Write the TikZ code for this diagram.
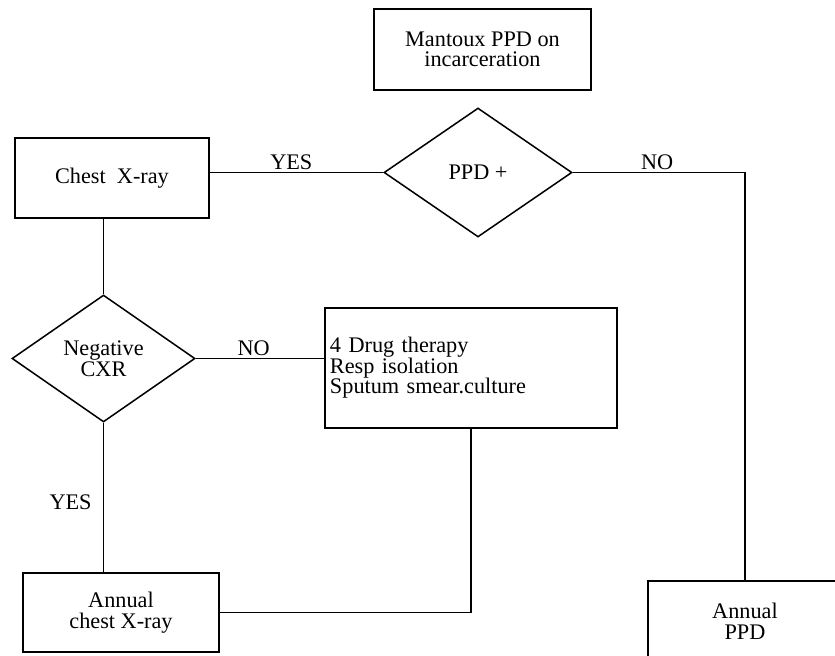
\documentclass[tikz,border=0pt]{standalone}
\usepackage{fontspec}
\setmainfont{Liberation Serif}
\usepackage{tikz}
\usetikzlibrary{positioning}
\usetikzlibrary{shapes.geometric}

\begin{document}
\begin{tikzpicture}[x=0.03cm, y=-0.03cm, line width=1.3pt,
  every node/.style={font=\fontsize{19}{17.6}\selectfont},
  process/.style={draw, inner sep=0pt, align=center},
  decision/.style={draw, diamond, inner sep=0pt, align=center},
  lbl/.style={inner sep=2pt}]
\path[use as bounding box, fill=white] (0,0) rectangle (835,656);
\clip (0,0) rectangle (835,656);

\node (mantoux) [process, minimum width=6.51cm, minimum height=2.43cm] at (482.5,49.5) {Mantoux PPD on\\incarceration};
\node (chest xray) [process, minimum width=5.82cm, minimum height=2.4cm] at (112,178) {Chest~~X-ray};
\node (ppd) [decision, minimum width=5.64cm, minimum height=3.87cm] at (478,172.5) {PPD +};
\node (negative cxr) [decision, minimum width=5.49cm, minimum height=3.81cm] at (103.5,358.5) {Negative\\CXR};
\node (drug therapy) [process, minimum width=8.76cm, minimum height=3.6cm, text width=8.46cm, inner xsep=0.15cm, align=left] at (471,368) {4 Drug therapy\\Resp isolation\\Sputum smear.culture};
\node (annual cxr) [process, minimum width=5.88cm, minimum height=2.37cm] at (121,612.5) {Annual\\chest X-ray};
\node (annual ppd) [process, minimum width=5.82cm, minimum height=2.4cm] at (745,621) {Annual\\PPD};

\draw (ppd.west -| chest xray.east) -- node (yes top) [lbl, above, pos=0.47] {YES} (ppd.west);
\draw (ppd.east) -| node (no top) [lbl, above, pos=0.245] {NO} (annual ppd.north);
\draw (negative cxr.north |- chest xray.south) -- (negative cxr.north);
\draw (negative cxr.east) -- node (no bottom) [lbl, above, pos=0.45] {NO} (negative cxr.east -| drug therapy.west);
\draw (negative cxr.south) -- node (yes bottom) [lbl, left=7.5pt, pos=0.53] {YES} (negative cxr.south |- annual cxr.north);
\draw (drug therapy.south) |- (annual cxr.east);

\end{tikzpicture}
\end{document}
